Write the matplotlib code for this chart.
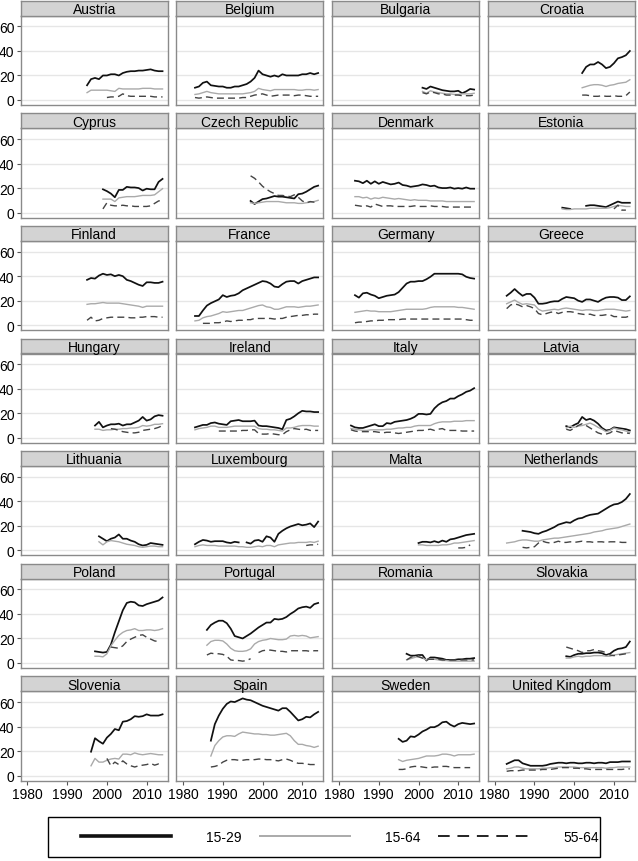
import numpy as np
import matplotlib
matplotlib.use("Agg")
import matplotlib.pyplot as plt
from matplotlib.lines import Line2D
from matplotlib.patches import Rectangle

plt.rcParams['font.family'] = ['Liberation Sans', 'DejaVu Sans']

nan = np.nan

countries = ["Austria", "Belgium", "Bulgaria", "Croatia",
             "Cyprus", "Czech Republic", "Denmark", "Estonia",
             "Finland", "France", "Germany", "Greece",
             "Hungary", "Ireland", "Italy", "Latvia",
             "Lithuania", "Luxembourg", "Malta", "Netherlands",
             "Poland", "Portugal", "Romania", "Slovakia",
             "Slovenia", "Spain", "Sweden", "United Kingdom"]

series_labels = ["15-29", "15-64", "55-64"]
x_ticks = [1980, 1990, 2000, 2010]
y_ticks = [0, 20, 40, 60]

# (first year, yearly values) -- age 15-29
y1529 = {
    "Austria": (1995, [12, 17, 18, 17, 20, 20, 21, 21, 20, 22, 23, 23.5, 23.5, 24, 24, 24.5, 25, 24, 23.5, 23.5]),
    "Belgium": (1983, [10, 11, 14, 15, 12, 11.5, 11, 11, 10, 10, 11, 11, 12, 13, 15, 18, 24, 21, 20, 19, 20, 19, 21, 20, 20, 20, 20, 21, 21, 22, 21, 22]),
    "Bulgaria": (2001, [10, 9, 11, 10, 9, 8, 7.5, 7, 7, 7.5, 5.5, 7, 9, 8.5]),
    "Croatia": (2002, [22, 27, 29, 29, 31, 29, 26, 27, 30, 34, 35, 36.5, 40]),
    "Cyprus": (1999, [19, 17.5, 15.5, 12.5, 18.5, 18.5, 21, 20.5, 20.5, 20, 18, 19.5, 19, 19, 25, 27.5]),
    "Czech Republic": (1997, [9.5, 7, 9, 11, 11.5, 12.5, 13.5, 13, 13, 12.5, 12, 11.5, 15, 15.5, 17, 19, 21, 22]),
    "Denmark": (1984, [26, 25.5, 24, 26, 23.5, 25.5, 23.5, 25, 24, 23, 23.5, 24.5, 22.5, 22, 21, 21.5, 22, 23, 22.5, 21.5, 22, 20.5, 20, 20, 20.5, 19.5, 20, 19.5, 20.5, 19.5, 19.5]),
    "Estonia": (1997, [4, 3.5, 3, nan, nan, nan, 5.5, 6, 6, 5.5, 5, 4.5, 6, 7.5, 9, 8, 8, 8]),
    "Finland": (1995, [37, 38.5, 38, 40.5, 42, 41, 41.5, 40, 41, 40, 37, 36, 34.5, 33, 32, 35, 35, 34.5, 34.5, 35.5]),
    "France": (1983, [7.5, 7.5, 12, 16, 18, 19.5, 21, 24.5, 23, 24, 24.5, 26, 28.5, 30, 31.5, 33, 34.5, 36, 35.5, 34, 31.5, 31, 33.5, 35.5, 36, 36, 34, 36, 37, 38, 39, 39]),
    "Germany": (1984, [24.5, 22.5, 26, 26.5, 25, 24, 22, 23, 24, 24.5, 25, 27, 30.5, 34, 35.5, 35.5, 36, 36, 37.5, 39.5, 42, 42, 42, 42, 42, 42, 42, 41.5, 39.5, 38.5, 38]),
    "Greece": (1983, [24, 26.5, 29.5, 26.5, 24, 25.5, 25.5, 22.5, 17.5, 17.5, 18, 19, 19.5, 19.5, 21.5, 23, 22.5, 22, 20, 19, 21, 21, 20, 19, 21, 22.5, 23, 23, 22.5, 20.5, 20.5, 23.5]),
    "Hungary": (1997, [10, 13, 8.5, 10, 11, 11, 11.5, 10, 11, 11, 12.5, 14, 17, 14, 15, 17.5, 18.5, 18]),
    "Ireland": (1983, [8.5, 9.5, 10.5, 10.5, 12, 12.5, 11.5, 11, 10.5, 13.5, 14, 14.5, 13.5, 13.5, 13.5, 14, 10, 9.5, 9.5, 9, 8.5, 8, 7, 14.5, 15.5, 17.5, 20, 22, 21.5, 21.5, 21, 21]),
    "Italy": (1983, [10, 8.5, 8, 8, 9, 10, 11, 9.5, 9.5, 12, 11.5, 13, 13.5, 14, 14.5, 15.5, 17, 19.5, 19.5, 19, 19.5, 24, 27, 29, 30, 32, 32, 34, 35.5, 37.5, 38.5, 40.5]),
    "Latvia": (1998, [9.5, 8.5, 10.5, 12, 17, 14.5, 15.5, 14, 11.5, 8, 6, 6.5, 8.5, 8, 7.5, 7, 6]),
    "Lithuania": (1998, [11.5, 9.5, 7.5, 9.5, 10.5, 13, 9.5, 9.5, 8, 7, 5, 4, 4.5, 6, 5.5, 5, 4.5]),
    "Luxembourg": (1983, [5, 7, 8.5, 8, 7, 7.5, 7.5, 7.5, 6.5, 6, 7, 6.5, nan, 6.5, 5.5, 8, 8.5, 7, 11.5, 10.5, 7, 13.5, 16, 18, 19.5, 20.5, 21.5, 20.5, 21, 22, 19, 23.5]),
    "Malta": (2000, [6, 7, 7, 6.5, 7.5, 6.5, 8, 7, 9, 9.5, 10.5, 11.5, 12.5, 13, 13.5]),
    "Netherlands": (1987, [16, 15.5, 15, 14, 13.5, 15, 16, 17.5, 19, 21, 22, 23, 22.5, 24.5, 26, 26.5, 28, 29, 29.5, 30, 32, 34, 36, 37.5, 38, 39.5, 42, 46]),
    "Poland": (1997, [9.5, 9, 8.5, 9, 15, 25, 34, 43, 49, 50, 49.5, 47, 46.5, 48, 49, 50, 51, 53.5]),
    "Portugal": (1986, [27, 31, 33, 34.5, 34.5, 32.5, 28, 22, 21, 20, 22, 24, 26.5, 29, 31, 33, 33, 36, 35.5, 36, 37.5, 40, 42, 44.5, 45.5, 46, 45, 48, 49]),
    "Romania": (1997, [7.5, 6, 6, 6.5, 6.5, 2, 4.5, 4.5, 4, 3.5, 2.5, 2.5, 2.5, 3, 3, 3.5, 3.5, 4]),
    "Slovakia": (1998, [5.5, 5, 6.5, 7.5, 7.5, 8, 8, 8.5, 8.5, 8, 6.5, 7.5, 10, 11.5, 12, 13, 17.5]),
    "Slovenia": (1996, [19.5, 30.5, 28, 26, 31, 34, 38, 37, 44, 44.5, 46, 48.5, 48, 48.5, 50, 49, 49, 49, 50]),
    "Spain": (1987, [28.5, 42, 49, 54.5, 58.5, 60.5, 60, 61.5, 63, 62, 61.5, 60, 58.5, 57, 56, 55, 54, 53, 55, 55, 52, 48.5, 45, 46, 48, 47.5, 50, 52]),
    "Sweden": (1995, [30, 27.5, 28.5, 32, 31.5, 33.5, 36, 37.5, 39.5, 39.5, 41, 43.5, 44, 41.5, 40, 42, 43, 42.5, 42, 42.5]),
    "United Kingdom": (1983, [9.5, 11, 12.5, 12.5, 10, 9, 8, 8, 8, 8, 8.5, 9.5, 10, 10.5, 10.5, 10, 10.5, 10.5, 10, 10, 10.5, 10.5, 10, 10.5, 10.5, 10, 11, 11, 11, 11.5, 11.5, 11.5]),
}

# age 15-64
y1564 = {
    "Austria": (1995, [6, 8, 8, 8, 8, 8, 7.5, 7, 9.5, 9, 9, 9, 9, 9, 9.5, 9.5, 9.5, 9, 9, 9]),
    "Belgium": (1983, [4.5, 5, 6, 7, 6, 5.5, 5, 5, 5, 5, 5, 5, 5, 5.5, 6, 7, 9.5, 8.5, 8, 7.5, 8.5, 8.5, 8.5, 8.5, 8.5, 8.5, 8, 8, 8.5, 8.5, 8, 8.5]),
    "Bulgaria": (2001, [7, 5.5, 7.5, 6.5, 6, 5.5, 5, 5, 4.5, 4.5, 5, 5, 5, 5.5]),
    "Croatia": (2002, [10, 11, 12, 12.5, 12.5, 12, 11, 12, 12.5, 13.5, 14, 14.5, 16.5]),
    "Cyprus": (1999, [11, 11, 11, 9, 12, 12.5, 13, 13, 13, 13.5, 14, 14, 14, 14.5, 17, 19.5]),
    "Czech Republic": (1997, [8, 7.5, 8, 8.5, 9, 9, 9, 9, 8.5, 8, 8, 8, 7.5, 7.5, 8, 8.5, 9, 10]),
    "Denmark": (1984, [13, 13, 12, 12.5, 11, 12, 11.5, 12.5, 12, 11.5, 11, 11.5, 11, 10.5, 10, 10.5, 10, 10, 10, 9.5, 9.5, 9.5, 9.5, 9, 9, 9, 9, 9, 9, 9, 9]),
    "Estonia": (1997, [3, 2.5, 2.5, 3, 3, 3, 3, 3.5, 3.5, 3.5, 3.5, 3.5, 4, 5, 6, 5.5, 5, 5]),
    "Finland": (1995, [17, 17.5, 17.5, 18, 18.5, 18, 18, 18, 18, 17.5, 17, 16.5, 16, 15.5, 14.5, 15.5, 15.5, 15.5, 15.5, 15.5]),
    "France": (1983, [3.5, 4, 6, 7, 7.5, 8.5, 9.5, 11, 10.5, 11, 11.5, 12, 12, 13, 14, 15, 16, 16.5, 15, 14.5, 13, 13, 14, 15, 15, 15, 14.5, 15, 15.5, 15.5, 16, 16.5]),
    "Germany": (1984, [10.5, 11, 11.5, 12, 11.5, 11.5, 11, 11, 11, 11, 11.5, 12, 12.5, 13, 13, 13, 13, 13, 13.5, 14.5, 15, 15, 15, 15, 15, 15, 14.5, 14.5, 14, 13.5, 13]),
    "Greece": (1983, [17.5, 19, 20.5, 18.5, 17, 17.5, 17, 16.5, 13, 11.5, 12, 12.5, 13, 12.5, 13.5, 14, 13.5, 13, 12.5, 12, 12.5, 12.5, 12, 12, 12.5, 13, 13, 13, 12.5, 12, 11.5, 12]),
    "Hungary": (1997, [7, 7, 6, 6.5, 6.5, 7, 7, 7.5, 7.5, 8, 8, 8.5, 10, 9.5, 10, 11, 11, 11.5]),
    "Ireland": (1983, [6.5, 7.5, 8, 8.5, 9.5, 9.5, 8.5, 8.5, 8.5, 9, 9.5, 9.5, 9.5, 9.5, 9.5, 9.5, 7.5, 7, 7, 6.5, 6.5, 6, 5.5, 8, 8, 8.5, 9.5, 10, 10, 10, 9.5, 9.5]),
    "Italy": (1983, [7.5, 7, 6.5, 6, 6, 6.5, 6.5, 6.5, 6.5, 7, 7, 7.5, 8, 8, 8.5, 8.5, 9.5, 10, 10, 10, 10, 11.5, 12.5, 13, 13, 13, 13.5, 13.5, 13.5, 14, 14, 14]),
    "Latvia": (1998, [8, 9.5, 8.5, 9.5, 10, 11, 12, 10.5, 8.5, 7, 5, 6, 8, 7, 6.5, 5.5, 4.5]),
    "Lithuania": (1998, [7, 4.5, 7, 8, 7.5, 7, 6, 5, 4.5, 4, 3, 2.5, 3, 3.5, 3.5, 3, 3]),
    "Luxembourg": (1983, [3, 4, 4.5, 4, 4, 4, 3.5, 3.5, 3.5, 3.5, 3.5, 3, 3, 2.5, 2.5, 3, 3.5, 3, 4, 4, 3, 4.5, 5, 5.5, 6, 6, 6.5, 6.5, 6.5, 7, 6.5, 7.5]),
    "Malta": (2000, [4.5, 4.5, 4, 4, 4, 4, 4.5, 4.5, 5, 6, 6, 6.5, 7, 7.5, 8]),
    "Netherlands": (1983, [6, 6.5, 7, 8, 8.5, 8.5, 8, 7.5, 7.5, 8.5, 9, 9.5, 10, 10, 10.5, 11, 11.5, 12, 12.5, 13, 13.5, 14, 15, 15.5, 16, 17, 17.5, 18, 18.5, 19.5, 20.5, 21.5]),
    "Poland": (1997, [5.5, 5.5, 5, 7.5, 14, 18.5, 22.5, 25, 26.5, 27, 28, 26.5, 26.5, 27, 27, 26.5, 27, 28]),
    "Portugal": (1986, [14.5, 17.5, 18.5, 18.5, 18, 15.5, 12, 10, 9.5, 9.5, 10, 11.5, 15.5, 17.5, 18.5, 19, 20, 19.5, 19, 19, 19.5, 22, 22.5, 22, 22.5, 22, 20.5, 21, 21.5]),
    "Romania": (1997, [2.5, 3.5, 4.5, 5.5, 4, 2.5, 3.5, 3, 2.5, 2, 2, 1.5, 1.5, 1.5, 1.5, 1.5, 1.5, 1.5]),
    "Slovakia": (1998, [4, 4, 5, 5.5, 5, 5.5, 5.5, 6, 6, 6, 5.5, 5.5, 6.5, 7, 7.5, 8, 8.5]),
    "Slovenia": (1996, [8, 14, 11, 11, 12.5, 13.5, 14, 13.5, 17.5, 17.5, 17, 18.5, 17.5, 17, 17.5, 18, 17.5, 17, 17]),
    "Spain": (1987, [16, 24.5, 28.5, 31.5, 32.5, 32.5, 32, 34, 35.5, 35, 34.5, 34, 34, 33.5, 33.5, 33, 33, 33.5, 34, 34.5, 32.5, 28.5, 25.5, 25.5, 24.5, 24, 23, 24]),
    "Sweden": (1995, [13, 11.5, 12.5, 13, 13.5, 14, 15, 16, 16, 16, 16.5, 17.5, 17.5, 17, 16, 17, 17, 17, 17, 17.5]),
    "United Kingdom": (1983, [5.5, 6, 7, 7, 6, 5.5, 5.5, 5.5, 5.5, 6, 6, 6.5, 6.5, 7, 7, 7, 7, 7, 6.5, 6.5, 6.5, 6.5, 6.5, 6.5, 6.5, 6, 6.5, 6.5, 7, 7, 7, 7]),
}

# age 55-64
y5564 = {
    "Austria": (2000, [2, 2.5, 2.5, 3, 5, 3.5, 3, 3, 3, 3, 3, 3, 2.5, 2.5, 2.5]),
    "Belgium": (1983, [2, 1.5, 2, 2.5, 2, 1.5, 1.5, 1.5, 1.5, 1.5, 1.5, 1.5, 2, 2, 3, 4, 4.5, 5, 4, 3, 3.5, 4, 4, 4, 4, 3.5, 4, 4, 3.5, 3, 3, 3]),
    "Bulgaria": (2001, [6, 5, 6.5, 6, 5, 5, 4, 4, 4, 4, 3.5, 3.5, 3.5, 4]),
    "Croatia": (2002, [4, 4, 3.5, 3, 3, 3.5, 3, 3, 3.5, 3, 3, 3.5, 6.5]),
    "Cyprus": (1999, [3, 8, 6, 5.5, 5.5, 6, 5.5, 5.5, 5, 5, 5, 5, 5.5, 7.5, 9.5, 10]),
    "Czech Republic": (1997, [30, 28, 25, 21.5, 19, 17, 15.5, 14, 14, 13.5, 13, 14.5, 12.5, 9.5, 8, 9, 8.5, 9]),
    "Denmark": (1984, [6, 5.5, 5, 5.5, 4.5, 7, 6, 5, 5.5, 5.5, 5, 5, 5, 5, 5, 5.5, 5, 5, 5, 5.5, 5, 5, 5, 4.5, 4.5, 4.5, 4.5, 4.5, 4.5, 4.5, 4.5]),
    "Estonia": (2010, [3, 6, 2, 2]),
    "Finland": (1995, [4, 6.5, 3.5, 4, 5.5, 6, 6.5, 6.5, 6.5, 6.5, 6.5, 6, 6, 6.5, 6.5, 7, 7, 7, 6.5, 6.5]),
    "France": (1985, [1.5, 1.5, 1.5, 2, 2, 2.5, 3.5, 3, 3.5, 4, 4, 4.5, 4.5, 5.5, 5.5, 5.5, 5.5, 5.5, 5, 5.5, 5.5, 6.5, 7, 7.5, 8, 8, 8.5, 8.5, 9, 9]),
    "Germany": (1984, [2, 2.5, 2.5, 3, 3.5, 3.5, 4, 4, 4.5, 4.5, 4.5, 4.5, 5, 5, 5, 5, 5, 5, 5, 5, 5, 5, 5, 5, 5, 5, 5, 5, 4.5, 4, 4]),
    "Greece": (1983, [13.5, 16.5, 17.5, 16.5, 15, 16, 15, 13.5, 9.5, 8.5, 9.5, 10.5, 11, 9.5, 10.5, 11, 11, 10.5, 9.5, 9, 8.5, 9, 8, 8, 8, 8.5, 8.5, 7, 7, 6.5, 6.5, 7.5]),
    "Hungary": (2001, [7.5, 7, 6, 5, 4.5, 4, 4, 4.5, 6, 6.5, 7, 7.5, 8.5, 10]),
    "Ireland": (1989, [5.5, 5.5, 5.5, 5.5, 5.5, 5.5, 6, 6, 6.5, 6.5, 3.5, 3, 3, 3.5, 3, 2.5, 2.5, 5, 6.5, 7.5, 7, 6.5, 7, 6, 6, 6]),
    "Italy": (1983, [6.5, 5.5, 5, 5, 5, 5, 5, 4.5, 4, 4.5, 4.5, 4, 3.5, 4, 4.5, 5, 5.5, 6, 6, 6.5, 7, 6, 7, 7.5, 6, 6, 6, 6, 5.5, 5.5, 5.5, 5.5]),
    "Latvia": (1998, [7, 6, 8, 10, 11.5, 10, 8, 6, 4, 3, 3, 4, 6, 5, 4, 4, 3.5]),
    "Lithuania": (1998, []),
    "Luxembourg": (2011, [4, 4.5, 4.5, 5]),
    "Malta": (2010, [2, 2, 2.5, 4.5]),
    "Netherlands": (1987, [2.5, 2, 2.5, 3, 6, 7.5, 6.5, 6, 6.5, 7.5, 6.5, 6.5, 7, 6.5, 7, 7.5, 7, 7, 6.5, 7, 7, 6.5, 7, 7, 7, 6.5, 6.5, 6.5]),
    "Poland": (2001, [13, 12.5, 12, 14, 17.5, 19.5, 21, 22.5, 23, 21, 19.5, 18, 17.5]),
    "Portugal": (1986, [6.5, 8, 7.5, 7.5, 7, 5.5, 2.5, 2, 2, 1.5, 2, 3.5, nan, 8.5, 10, 10.5, 10.5, 10, 9.5, 9.5, 9, 10, 10, 10, 10, 10, 9.5, 10, 10]),
    "Romania": (1997, [2.5, 4.5, 6, 5, 4, 3, 3, 3, 3, 2.5, 2.5, 2.5, 2.5, 2.5, 2.5, 2.5, 2.5, 2.5]),
    "Slovakia": (1998, [13, 12, 11, 10, 8.5, 10, 10, 11, 10, 9.5, 8.5, 6.5, 6, 6.5, 7, 7.5, 7.5]),
    "Slovenia": (2000, [14, 8, 11, 9, 12, 9.5, 8, 7, 8, 8.5, 9, 10, 8.5, 9.5, 8.5]),
    "Spain": (1987, [7, 7.5, 8.5, 11, 12.5, 13, 13, 12.5, 12.5, 13, 13, 13, 13.5, 13.5, 13, 13, 12.5, 12, 13, 13.5, 12.5, 11, 10, 10, 9.5, 9, 9, 9.5]),
    "Sweden": (1995, [5, 5, 5.5, 7, 7.5, 7.5, 7, 6.5, 6.5, 7, 7, 7.5, 7.5, 7, 6.5, 6.5, 6.5, 6.5, 6.5]),
    "United Kingdom": (1983, [3.5, 4, 4, 4, 4.5, 4.5, 4.5, 4.5, 4.5, 5, 5, 5, 5.5, 6, 6.5, 6.5, 6.5, 6, 6, 5.5, 5.5, 5, 5, 5, 5, 5, 5, 5, 5, 5, 5.5, 5.5]),
}

W, H = 638, 862
fig = plt.figure(figsize=(W / 100, H / 100), dpi=100)

col_left = [20.7, 176.3, 332.3, 488.0]
pw = 147.0
ph = 89.3
strip_h = 15.0
row_pitch = 112.6
top0 = 16.7

styles = [dict(color="#111111", lw=1.25, ls="-"),
          dict(color="#aaaaaa", lw=1.0, ls="-"),
          dict(color="#444444", lw=1.0, ls=(0, (5, 3)))]

for idx, name in enumerate(countries):
    r, k = divmod(idx, 4)
    x0 = col_left[k]
    yt = top0 + r * row_pitch
    ax = fig.add_axes([x0 / W, 1 - (yt + ph) / H, pw / W, ph / H])
    for data, st in zip([y1529, y1564, y5564], styles):
        start, vals = data[name]
        if len(vals) == 0:
            continue
        yrs = np.arange(start, start + len(vals))
        ax.plot(yrs, np.array(vals, dtype=float), color=st["color"],
                lw=st["lw"], linestyle=st["ls"], zorder=3)
    ax.set_xlim(1978.3, 2015.3)
    ax.set_ylim(-4.1, 68.8)
    ax.set_yticks(y_ticks)
    ax.set_xticks(x_ticks)
    ax.grid(axis="y", color="#e6e6e6", lw=1.0, zorder=0)
    for s in ax.spines.values():
        s.set_color("#8a8a8a")
        s.set_linewidth(1.0)
    ax.tick_params(labelsize=10, length=3, width=0.8, color="#555555", pad=1.5)
    if k != 0:
        ax.tick_params(axis="y", left=False, labelleft=False)
    if r != 6:
        ax.tick_params(axis="x", bottom=False, labelbottom=False)

    sax = fig.add_axes([x0 / W, 1 - yt / H, pw / W, strip_h / H])
    sax.set_facecolor("#d3d3d3")
    sax.set_xticks([])
    sax.set_yticks([])
    for s in sax.spines.values():
        s.set_color("#8a8a8a")
        s.set_linewidth(1.0)
    sax.text(0.5, 0.45, name, ha="center", va="center", fontsize=10,
             transform=sax.transAxes)

# legend: frame drawn separately, entries centred inside
fig.patches.append(Rectangle((48 / W, 1 - 858 / H), 552 / W, 40 / H,
                             transform=fig.transFigure, fill=False,
                             edgecolor="black", lw=1.0))
handles = [Line2D([], [], color="#111111", lw=2.6),
           Line2D([], [], color="#aaaaaa", lw=1.4),
           Line2D([], [], color="#222222", lw=1.4, linestyle=(0, (6, 4)))]
fig.legend(handles, series_labels, loc="center", ncol=3,
           bbox_to_anchor=(340 / W, 1 - 838 / H),
           fontsize=10, frameon=False, handlelength=6.5,
           handletextpad=2.5, columnspacing=1.3)

fig.savefig("out.png", dpi=100)
